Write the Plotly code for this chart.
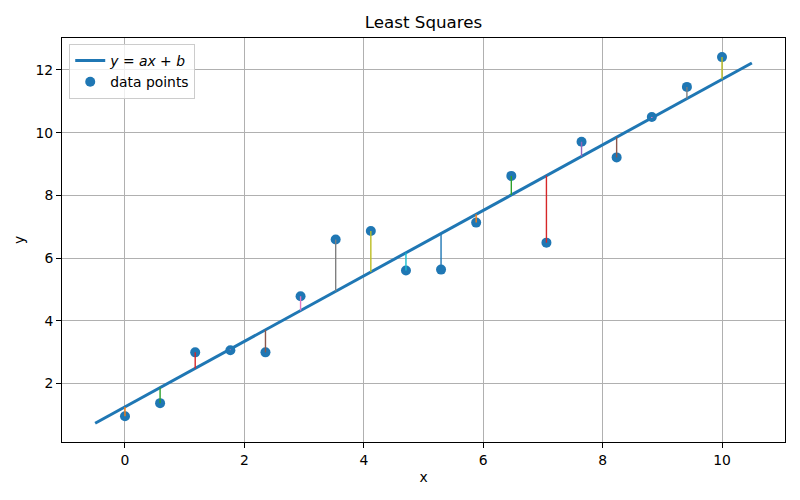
import numpy as np
import plotly.graph_objects as go

# Data
x_points = [0.0, 0.588, 1.176, 1.765, 2.353, 2.941, 3.529, 4.118, 4.706,
            5.294, 5.882, 6.471, 7.059, 7.647, 8.235, 8.824, 9.412, 10.0]
y_points = [0.95, 1.37, 2.99, 3.06, 2.99, 4.78, 6.59, 6.86, 5.60,
            5.63, 7.13, 8.62, 6.49, 9.71, 9.21, 10.50, 11.46, 12.41]
slope_a = 1.045
intercept_b = 1.25
line_x = [-0.5, 10.5]
x_ticks = [0, 2, 4, 6, 8, 10]
y_ticks = [2, 4, 6, 8, 10, 12]

tab10 = ["#1f77b4", "#ff7f0e", "#2ca02c", "#d62728", "#9467bd",
         "#8c564b", "#e377c2", "#7f7f7f", "#bcbd22", "#17becf"]

FONT = "DejaVu Sans"
fig = go.Figure()

lx = np.array(line_x)
fig.add_trace(go.Scatter(
    x=lx, y=slope_a * lx + intercept_b, mode="lines",
    line=dict(color="#1f77b4", width=3),
    name="<i>y</i> = <i>ax</i> + <i>b</i>"))

fig.add_trace(go.Scatter(
    x=x_points, y=y_points, mode="markers",
    marker=dict(color="#1f77b4", size=10),
    name="data points"))

for i, (xi, yi) in enumerate(zip(x_points, y_points)):
    color = tab10[(i + 1) % 10]
    fig.add_trace(go.Scatter(
        x=[xi, xi], y=[yi, slope_a * xi + intercept_b], mode="lines",
        line=dict(color=color, width=1.4), showlegend=False,
        hoverinfo="skip"))

axis_common = dict(
    showgrid=True, gridcolor="#b0b0b0", gridwidth=1,
    zeroline=False, showline=True, mirror=True, linecolor="black",
    linewidth=1, ticks="outside", ticklen=5, tickcolor="black",
    tickfont=dict(family=FONT, size=13.9, color="black"),
    automargin=False,
)

fig.update_xaxes(range=[-1.055, 11.055], tickvals=x_ticks,
                 title=dict(text="x", font=dict(family=FONT, size=13.9, color="black"), standoff=5),
                 **axis_common)
fig.update_yaxes(range=[0.13, 13.02], tickvals=y_ticks,
                 title=dict(text="y", font=dict(family=FONT, size=13.9, color="black"), standoff=7),
                 **axis_common)

fig.update_layout(
    width=800, height=500,
    margin=dict(l=62, r=15, t=38, b=58),
    paper_bgcolor="white", plot_bgcolor="white",
    font=dict(family=FONT, size=13.9, color="black"),
    title=dict(text="Least Squares", x=0.5, xref="paper", xanchor="center",
               y=1 - 22 / 500, yref="container", yanchor="middle",
               font=dict(family=FONT, size=16.7, color="black")),
    legend=dict(x=0.01, y=0.985, xanchor="left", yanchor="top",
                bgcolor="rgba(255,255,255,0.8)", bordercolor="#cccccc",
                borderwidth=1, font=dict(family=FONT, size=13.9, color="black"),
                tracegroupgap=0),
    showlegend=True,
)

fig.write_html("out.html", config={"displayModeBar": False},
               post_script="document.body.style.margin='0';document.body.style.overflow='hidden';")
